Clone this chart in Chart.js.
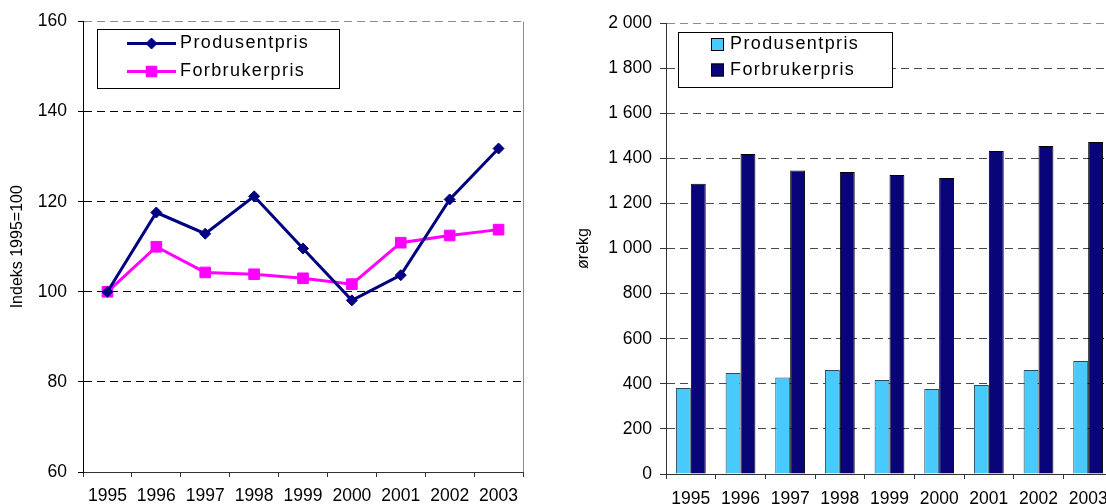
<!DOCTYPE html>
<html>
<head>
<meta charset="utf-8">
<script src="https://cdn.jsdelivr.net/npm/chart.js@4"></script>
<style>
  html, body { margin: 0; padding: 0; background: #fff; overflow: hidden; }
  #indeksChart { position: absolute; left: 0; top: 0; }
  #prisChart { position: absolute; left: 560px; top: 0; }
</style>
</head>
<body>
<canvas id="indeksChart" width="560" height="504"></canvas>
<canvas id="prisChart" width="570" height="504"></canvas>
<script>
const years = ["1995", "1996", "1997", "1998", "1999", "2000", "2001", "2002", "2003"];
const produsentIndeks = [100, 117.6, 112.9, 121.2, 109.6, 98.1, 103.7, 120.5, 131.8];
const forbrukerIndeks = [100, 110.0, 104.3, 103.9, 103.0, 101.7, 110.9, 112.5, 113.8];
const produsentOre = [381, 448, 428, 461, 417, 377, 395, 461, 501];
const forbrukerOre = [1287, 1419, 1346, 1339, 1326, 1313, 1432, 1455, 1472];
const indeksTicks = [60, 80, 100, 120, 140, 160];
const oreTicks = [0, 200, 400, 600, 800, 1000, 1200, 1400, 1600, 1800, 2000];

Chart.defaults.font.family = "'Liberation Sans', Arial, sans-serif";
Chart.defaults.color = "#000";

// legend with a framed box, drawn inside the plot area
const boxLegend = {
  id: "boxLegend",
  afterDraw(chart, args, opts) {
    const ctx = chart.ctx;
    const b = opts.box;
    ctx.save();
    ctx.fillStyle = "#fff";
    ctx.fillRect(b.x, b.y, b.w, b.h);
    ctx.strokeStyle = "#000";
    ctx.lineWidth = 1;
    ctx.strokeRect(b.x + 0.5, b.y + 0.5, b.w, b.h);
    chart.data.datasets.forEach((ds, i) => {
      const y = opts.rows[i];
      if (opts.kind === "line") {
        ctx.strokeStyle = ds.borderColor;
        ctx.lineWidth = ds.borderWidth;
        ctx.beginPath();
        ctx.moveTo(opts.markX[0], y);
        ctx.lineTo(opts.markX[1], y);
        ctx.stroke();
        ctx.fillStyle = ds.backgroundColor;
        ctx.lineWidth = 1;
        Chart.helpers.drawPoint(ctx, {
          pointStyle: ds.pointStyle, radius: ds.pointRadius, rotation: 0, borderWidth: 1
        }, (opts.markX[0] + opts.markX[1]) / 2, y);
      } else {
        const s = opts.swatch;
        ctx.fillStyle = ds.backgroundColor;
        ctx.fillRect(opts.markX[0], y - s / 2, s, s);
        ctx.strokeStyle = "#000";
        ctx.lineWidth = 1;
        ctx.strokeRect(opts.markX[0] + 0.5, y - s / 2 + 0.5, s - 1, s - 1);
      }
      ctx.fillStyle = "#000";
      ctx.font = opts.font;
      ctx.letterSpacing = opts.spacing;
      ctx.textBaseline = "middle";
      ctx.textAlign = "left";
      ctx.fillText(ds.label, opts.textX, y);
      ctx.letterSpacing = "0px";
    });
    ctx.restore();
  }
};

// right-hand edge of the plot area
const plotEdge = {
  id: "plotEdge",
  beforeDatasetsDraw(chart) {
    const a = chart.chartArea;
    const ctx = chart.ctx;
    ctx.save();
    ctx.strokeStyle = "#8c8c8c";
    ctx.lineWidth = 1;
    ctx.beginPath();
    ctx.moveTo(Math.round(a.right) + 0.5, a.top);
    ctx.lineTo(Math.round(a.right) + 0.5, a.bottom);
    ctx.stroke();
    ctx.restore();
  }
};

const tickFont = { size: 17.5 };

new Chart(document.getElementById("indeksChart"), {
  type: "line",
  data: {
    labels: years,
    datasets: [
      {
        label: "Produsentpris",
        data: produsentIndeks,
        borderColor: "#000080",
        backgroundColor: "#000080",
        borderWidth: 3,
        pointStyle: "rectRot",
        pointRadius: 5.5,
        pointBorderWidth: 1,
        tension: 0
      },
      {
        label: "Forbrukerpris",
        data: forbrukerIndeks,
        borderColor: "#ff00ff",
        backgroundColor: "#ff00ff",
        borderWidth: 3,
        pointStyle: "rect",
        pointRadius: 7.5,
        pointBorderWidth: 1,
        tension: 0
      }
    ]
  },
  options: {
    responsive: false,
    animation: false,
    events: [],
    layout: { padding: { left: 0, top: 21, right: 37, bottom: 0 } },
    plugins: {
      legend: { display: false },
      tooltip: { enabled: false },
      boxLegend: {
        kind: "line",
        box: { x: 97, y: 29, w: 242, h: 59 },
        rows: [43.5, 71.5],
        markX: [127, 176],
        textX: 180,
        font: "18px 'Liberation Sans', Arial, sans-serif",
        spacing: "1.4px"
      }
    },
    scales: {
      x: {
        offset: true,
        grid: { offset: true, drawOnChartArea: false, tickLength: 5, tickColor: "#333" },
        border: { color: "#333" },
        ticks: { font: tickFont, padding: 9, autoSkip: false, maxRotation: 0 },
        afterFit: (s) => { s.height = 32; }
      },
      y: {
        min: indeksTicks[0],
        max: indeksTicks[indeksTicks.length - 1],
        afterBuildTicks: (s) => { s.ticks = indeksTicks.map((v) => ({ value: v })); },
        grid: {
          color: (c) => (c.tick && c.tick.value === indeksTicks[indeksTicks.length - 1] ? "#8c8c8c" : "#000"),
          tickLength: 5,
          tickColor: "#000"
        },
        border: { color: "#000", dash: [8, 5] },
        ticks: { font: tickFont, padding: 11 },
        title: { display: true, text: "Indeks 1995=100", font: { size: 16 }, padding: { top: 8, bottom: 0 } },
        afterFit: (s) => { s.width = 83; }
      }
    }
  },
  plugins: [plotEdge, boxLegend]
});

new Chart(document.getElementById("prisChart"), {
  type: "bar",
  data: {
    labels: years,
    datasets: [
      {
        label: "Produsentpris",
        data: produsentOre,
        backgroundColor: "#48cafd",
        borderColor: "#2a4a5a",
        borderWidth: 1,
        categoryPercentage: 0.6,
        barPercentage: 1.0
      },
      {
        label: "Forbrukerpris",
        data: forbrukerOre,
        backgroundColor: "#0a0479",
        borderColor: "#000",
        borderWidth: 1,
        categoryPercentage: 0.6,
        barPercentage: 1.0
      }
    ]
  },
  options: {
    responsive: false,
    animation: false,
    events: [],
    layout: { padding: { left: 0, top: 23, right: 17, bottom: 0 } },
    plugins: {
      legend: { display: false },
      tooltip: { enabled: false },
      boxLegend: {
        kind: "bar",
        box: { x: 118, y: 32, w: 214, h: 55 },
        rows: [44.5, 70],
        markX: [151, 164],
        swatch: 13,
        textX: 170,
        font: "18px 'Liberation Sans', Arial, sans-serif",
        spacing: "1.4px"
      }
    },
    scales: {
      x: {
        grid: { drawOnChartArea: false, tickLength: 5, tickColor: "#333" },
        border: { color: "#333" },
        ticks: { font: tickFont, padding: 10, autoSkip: false, maxRotation: 0 },
        afterFit: (s) => { s.height = 30; }
      },
      y: {
        min: oreTicks[0],
        max: oreTicks[oreTicks.length - 1],
        afterBuildTicks: (s) => { s.ticks = oreTicks.map((v) => ({ value: v })); },
        grid: {
          color: (c) => (c.tick && c.tick.value === oreTicks[oreTicks.length - 1] ? "#8c8c8c" : "#4a4a4a"),
          tickLength: 6,
          tickColor: "#333"
        },
        border: { color: "#333", dash: [8, 5] },
        ticks: {
          font: tickFont,
          padding: 8,
          callback: (v) => String(v).replace(/\B(?=(\d{3})+(?!\d))/g, " ")
        },
        title: { display: true, text: "ørekg", font: { size: 16 }, padding: { top: 14, bottom: 0 } },
        afterFit: (s) => { s.width = 106; }
      }
    }
  },
  plugins: [plotEdge, boxLegend]
});
</script>
</body>
</html>
